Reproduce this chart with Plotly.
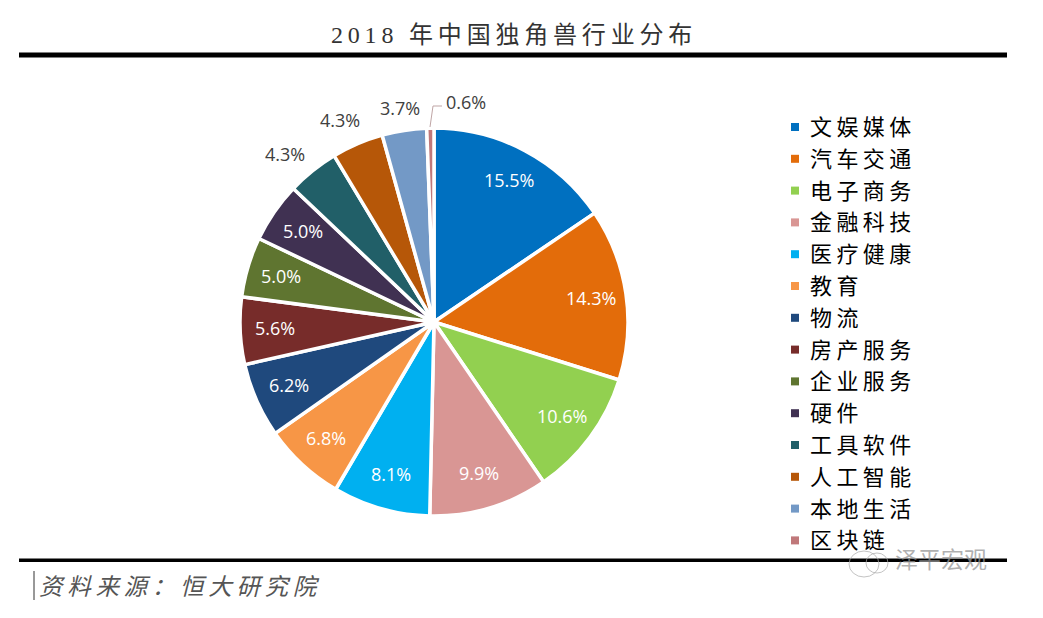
import math
import plotly.graph_objects as go

W, H = 1043, 618
categories = ["文娱媒体", "汽车交通", "电子商务", "金融科技", "医疗健康", "教育", "物流",
              "房产服务", "企业服务", "硬件", "工具软件", "人工智能", "本地生活", "区块链"]
values = [15.5, 14.3, 10.6, 9.9, 8.1, 6.8, 6.2, 5.6, 5.0, 5.0, 4.3, 4.3, 3.7, 0.6]
colors = ["#0070C0", "#E36C0A", "#92D050", "#D99694", "#00B0F0", "#F79646", "#1F497D",
          "#772C2A", "#5F7530", "#403152", "#215F68", "#B65708", "#7399C6", "#C0787A"]
title_text = "2018 年中国独角兽行业分布"
source_text = "资料来源：恒大研究院"
watermark_text = "泽平宏观"

# outside-label anchors (pixels) for the small slices, by slice index
outside_labels = {10: (285, 154), 11: (340, 120), 12: (400, 108), 13: (466, 102)}

CX, CY, R = 434, 322, 194
px = lambda v: v / W
py = lambda v: 1 - v / H
CJK = "Noto Sans CJK SC"
LABEL_FONT = "Open Sans, " + CJK


def spaced(s):
    return "\u2009".join(s)


texts = [f"{v:.1f}%" for v in values]
fig = go.Figure(go.Pie(
    labels=categories, values=values, sort=False, direction="clockwise", rotation=0,
    marker=dict(colors=colors, line=dict(color="white", width=3.5)),
    textinfo="none",
    domain=dict(x=[px(CX - R), px(CX + R)], y=[py(CY + R), py(CY - R)]),
    showlegend=False, hoverinfo="label+percent",
))

shapes = [
    dict(type="rect", xref="paper", yref="paper", x0=px(19), x1=px(1007), y0=py(57.5), y1=py(52.5),
         fillcolor="black", line_width=0),
    dict(type="rect", xref="paper", yref="paper", x0=px(19), x1=px(1007), y0=py(562), y1=py(558.5),
         fillcolor="black", line_width=0),
    dict(type="line", xref="paper", yref="paper", x0=px(34), x1=px(34), y0=py(571), y1=py(600),
         line=dict(color="#333333", width=1)),
    # leader for the 0.6% label
    dict(type="path", xref="paper", yref="paper",
         path=f"M {px(430)} {py(127)} L {px(433)} {py(106)} L {px(442)} {py(106)}",
         line=dict(color="#BFA5A5", width=1)),
    # watermark chat icon
    dict(type="circle", xref="paper", yref="paper", x0=px(849), x1=px(879), y0=py(577), y1=py(551),
         line=dict(color="rgba(170,170,170,0.7)", width=1)),
    dict(type="circle", xref="paper", yref="paper", x0=px(866), x1=px(888), y0=py(573), y1=py(553),
         line=dict(color="rgba(170,170,170,0.7)", width=1)),
]
annotations = [
    dict(text=spaced(title_text), x=px(511.5), y=py(35), xref="paper", yref="paper", showarrow=False,
         xanchor="center", yanchor="middle",
         font=dict(family="Liberation Serif, " + CJK, size=24, color="#333333")),
    dict(text="<i>" + spaced(source_text) + "</i>", x=px(37), y=py(585), xref="paper", yref="paper",
         xanchor="left", yanchor="middle", showarrow=False, font=dict(family=CJK, size=23.5, color="#555555")),
    dict(text=watermark_text, x=px(941), y=py(558), xref="paper", yref="paper", showarrow=False,
         xanchor="center", yanchor="middle",
         font=dict(family=CJK, size=23, color="rgba(150,150,150,0.75)")),
]

# percentage labels: inside ones sit at 82 % of the radius on each slice's mid angle
total = sum(values)
cum = 0.0
for i, v in enumerate(values):
    mid = (cum + v / 2) / total * 2 * math.pi
    cum += v
    if i in outside_labels:
        lx, ly = outside_labels[i]
        col = "#404040"
    else:
        lx = CX + 0.82 * R * math.sin(mid)
        ly = CY - 0.82 * R * math.cos(mid) - 1
        col = "white"
    annotations.append(dict(text=texts[i], x=px(lx), y=py(ly), xref="paper", yref="paper", showarrow=False,
                            xanchor="center", yanchor="middle",
                            font=dict(family=LABEL_FONT, size=18, color=col)))

LEG_X, LEG_Y0, LEG_DY = 795, 127, 31.8
for i, (name, col) in enumerate(zip(categories, colors)):
    y = LEG_Y0 + i * LEG_DY
    shapes.append(dict(type="rect", xref="paper", yref="paper", x0=px(LEG_X - 4), x1=px(LEG_X + 4),
                       y0=py(y + 4), y1=py(y - 4), fillcolor=col, line_width=0))
    annotations.append(dict(text=spaced(name), x=px(808), y=py(y - 2), xref="paper", yref="paper",
                            xanchor="left", yanchor="middle", showarrow=False,
                            font=dict(family=CJK, size=22, color="#000000")))

fig.update_layout(width=W, height=H, margin=dict(l=0, r=0, t=0, b=0), paper_bgcolor="white",
                  plot_bgcolor="white", shapes=shapes, annotations=annotations)
fig.write_html("out.html", config={"displayModeBar": False},
               post_script="document.body.style.margin='0';")
